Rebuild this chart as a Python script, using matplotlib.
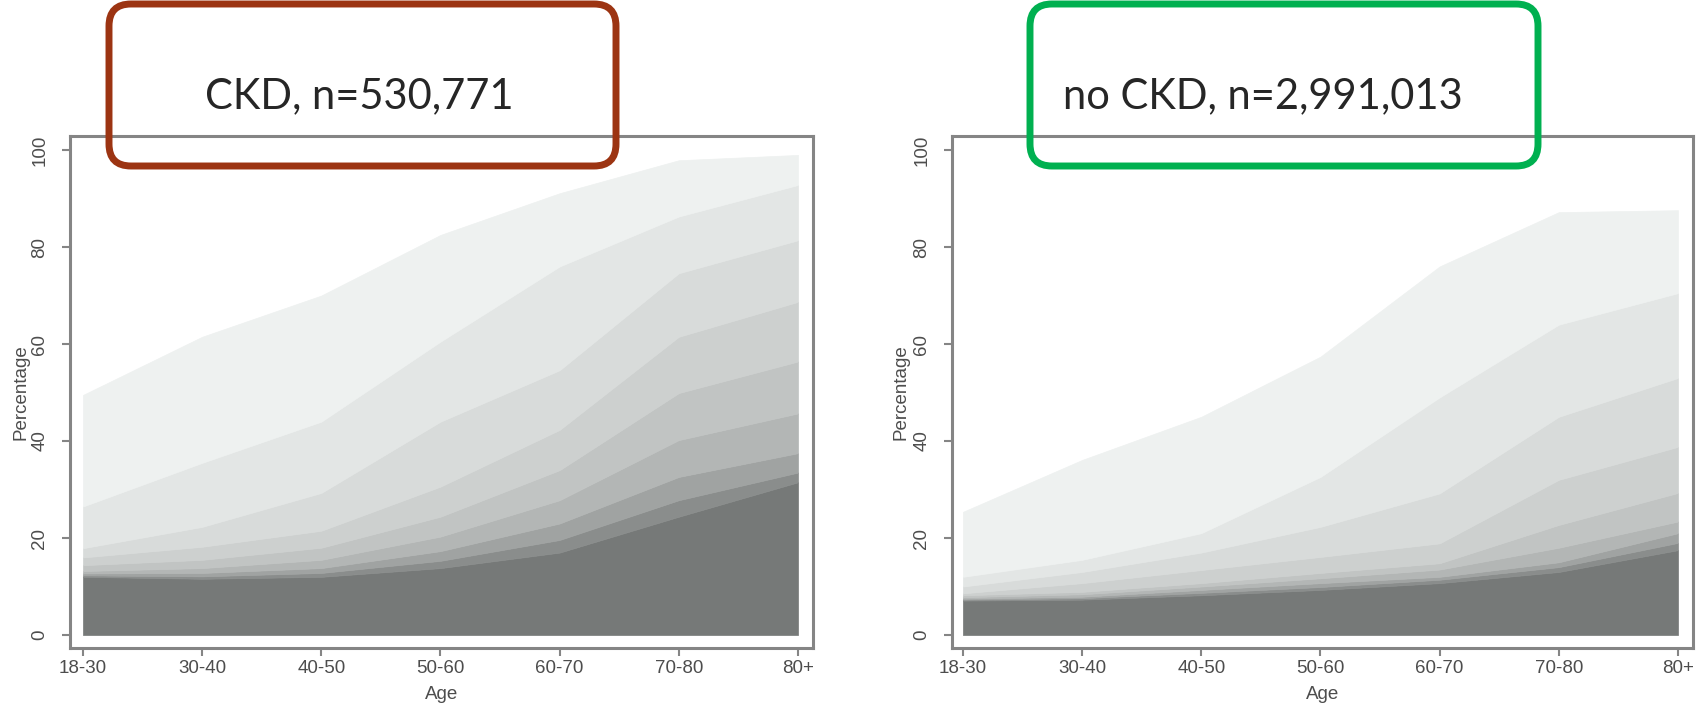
import matplotlib
matplotlib.use("Agg")
import matplotlib.pyplot as plt
from matplotlib.patches import FancyBboxPatch
import numpy as np

# Catégories d'âge
ages = ["18-30", "30-40", "40-50", "50-60", "60-70", "70-80", "80+"]

# CKD : bord supérieur cumulé (%) de chaque couche, du bas vers le haut
ckd_1 = [12.0, 11.6, 12.0, 13.8, 17.0, 24.4, 31.5]
ckd_2 = [12.3, 12.1, 12.8, 15.3, 19.6, 27.8, 33.5]
ckd_3 = [12.7, 12.8, 13.8, 17.3, 23.0, 32.6, 37.5]
ckd_4 = [13.2, 13.8, 15.5, 20.3, 27.8, 40.2, 45.7]
ckd_5 = [14.4, 15.5, 18.0, 24.4, 34.0, 49.9, 56.4]
ckd_6 = [16.0, 18.2, 21.5, 30.6, 42.3, 61.5, 68.7]
ckd_7 = [17.9, 22.3, 29.3, 44.0, 54.6, 74.6, 81.4]
ckd_8 = [26.5, 35.5, 44.0, 60.5, 76.0, 86.3, 92.8]
ckd_9 = [49.5, 61.5, 70.0, 82.5, 91.1, 97.9, 99.0]

# pas de CKD
nockd_1 = [7.1, 7.3, 8.2, 9.3, 10.7, 13.0, 17.5]
nockd_2 = [7.3, 7.6, 8.7, 9.9, 11.4, 14.0, 19.0]
nockd_3 = [7.5, 7.9, 9.3, 10.7, 12.0, 15.0, 21.0]
nockd_4 = [7.8, 8.4, 10.0, 11.7, 13.5, 18.0, 23.4]
nockd_5 = [8.2, 8.9, 10.7, 12.8, 14.8, 22.7, 29.3]
nockd_6 = [8.6, 10.7, 13.4, 16.1, 18.9, 32.0, 38.8]
nockd_7 = [10.0, 13.0, 17.0, 22.3, 29.2, 45.0, 53.0]
nockd_8 = [12.0, 15.5, 21.0, 32.6, 49.0, 64.0, 70.5]
nockd_9 = [25.4, 36.1, 45.0, 57.4, 76.0, 87.2, 87.6]

ckd = [ckd_1, ckd_2, ckd_3, ckd_4, ckd_5, ckd_6, ckd_7, ckd_8, ckd_9]
nockd = [nockd_1, nockd_2, nockd_3, nockd_4, nockd_5, nockd_6, nockd_7, nockd_8, nockd_9]

couleurs = ["#767978", "#8a8d8c", "#a0a3a2", "#b3b6b5", "#c1c4c3",
            "#cdd0cf", "#d8dbda", "#e3e6e5", "#eef1f0"]

plt.rcParams["font.family"] = ["Liberation Sans", "DejaVu Sans"]

fig = plt.figure(figsize=(16.97, 7.08), dpi=100)
fig.patch.set_facecolor("white")

ax1 = fig.add_axes([0.04125, 0.08475, 0.43783, 0.72316])
ax2 = fig.add_axes([0.56099, 0.08475, 0.43665, 0.72316])

x = np.arange(len(ages))
gris = "#858585"
texte = "#4d4d4d"


def trace(ax, couches, xmin, xmax):
    bas = np.zeros(len(ages))
    for k in range(len(couches)):
        haut = np.array(couches[k])
        ax.fill_between(x, bas, haut, facecolor=couleurs[k],
                        edgecolor=couleurs[k], linewidth=0.5)
        bas = haut
    ax.set_xlim(xmin, xmax)
    ax.set_ylim(-2.68, 102.9)
    ax.set_xticks(x)
    ax.set_xticklabels(ages)
    ax.set_yticks([0, 20, 40, 60, 80, 100])
    ax.set_yticklabels(["0", "20", "40", "60", "80", "100"],
                       rotation=90, va="center")
    for s in ax.spines.values():
        s.set_color(gris)
        s.set_linewidth(2.2)
    ax.tick_params(axis="both", colors=gris, labelcolor=texte,
                   labelsize=13.5, length=5.5, width=1.5)
    ax.tick_params(axis="y", pad=10)
    ax.tick_params(axis="x", pad=3)
    ax.set_xlabel("Age", fontsize=13.5, color=texte)
    ax.set_ylabel("Percentage", fontsize=13.5, color=texte)


trace(ax1, ckd, -0.109, 6.126)
trace(ax2, nockd, -0.092, 6.126)

ax1.xaxis.set_label_coords(0.5, -0.09)
ax1.xaxis.label.set_va("center")
ax2.xaxis.set_label_coords(0.5, -0.09)
ax2.xaxis.label.set_va("center")
ax1.yaxis.set_label_coords(-0.066, 0.5)
ax1.yaxis.label.set_va("center")
ax2.yaxis.set_label_coords(-0.069, 0.5)
ax2.yaxis.label.set_va("center")

# Cadres arrondis des titres (en pouces)
cadre1 = FancyBboxPatch((1.09, 5.42), 5.07, 1.62,
                        boxstyle="round,pad=0,rounding_size=0.22",
                        transform=fig.dpi_scale_trans, fill=False,
                        edgecolor="#9c3412", linewidth=5, zorder=5)
cadre2 = FancyBboxPatch((10.30, 5.42), 5.08, 1.62,
                        boxstyle="round,pad=0,rounding_size=0.22",
                        transform=fig.dpi_scale_trans, fill=False,
                        edgecolor="#00b050", linewidth=5, zorder=5)
fig.add_artist(cadre1)
fig.add_artist(cadre2)

fig.text(359 / 1697, 600 / 708, "CKD, n=530,771", ha="center", va="baseline",
         fontsize=30, color="#262626", family=["Lato", "DejaVu Sans"], zorder=6)
fig.text(1263 / 1697, 600 / 708, "no CKD, n=2,991,013", ha="center", va="baseline",
         fontsize=30, color="#262626", family=["Lato", "DejaVu Sans"], zorder=6)

fig.savefig("out.png", dpi=100, facecolor="white")
